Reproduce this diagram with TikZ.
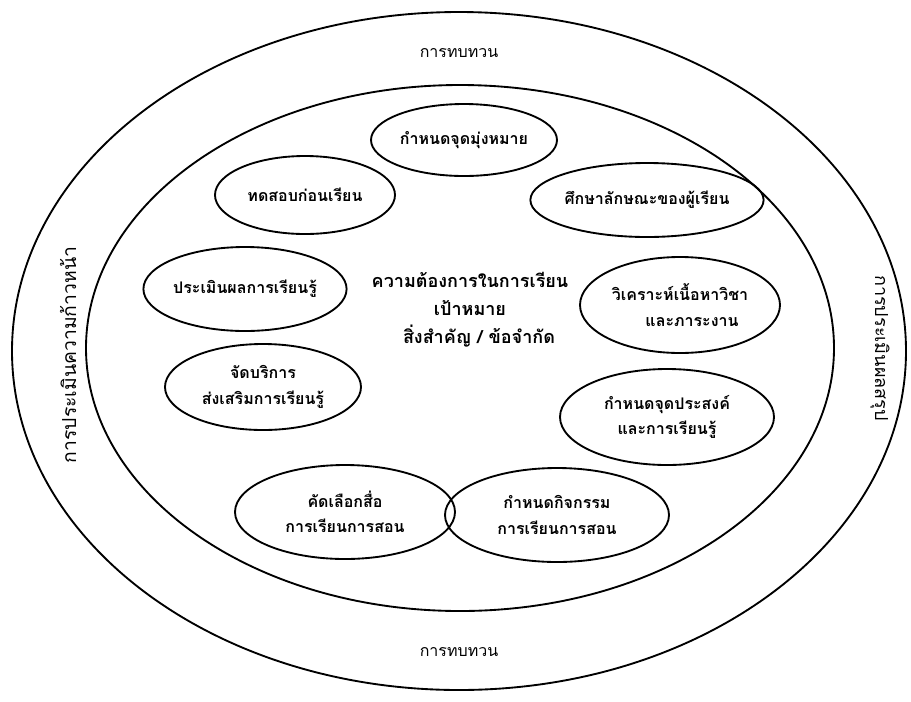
\documentclass[tikz,border=0pt]{standalone}
\usepackage{fontspec}
\newfontfamily\thaifont[Script=Thai]{Loma}
\usetikzlibrary{shapes.geometric}
\tikzset{
	ring/.style={line width=1.4pt},
	bubble/.style={draw, ellipse, line width=1.4pt, inner sep=0pt, align=center,
		font=\thaifont\bfseries\fontsize{12}{19}\selectfont},
	ringlabel/.style={font=\thaifont\fontsize{12}{14}\selectfont}
}
\newcommand{\drawBubble}[5]{
	\node[bubble, minimum width={#3*0.75pt}, minimum height={#4*0.75pt}] (#1) at (#2) {#5};
}

\begin{document}
\begin{tikzpicture}[x=0.75pt, y=-0.75pt]
		\useasboundingbox (0,0) rectangle (911,701);
		\coordinate (C_out) at (459,351);
		\coordinate (C_in) at (460,348);

		\draw[ring] (C_out) ellipse [x radius=447, y radius=339];
		\draw[ring] (C_in) ellipse [x radius=374, y radius=263];

		\node[ringlabel] (L_top) at (459,53) {การทบทวน};
		\node[ringlabel] (L_bot) at (459,652) {การทบทวน};
		\node[ringlabel, rotate=90, font=\thaifont\fontsize{14.5}{16}\selectfont] (L_left) at (68,355) {การประเมินความก้าวหน้า};
		\node[ringlabel, rotate=-90, font=\thaifont\fontsize{13.5}{15}\selectfont] (L_right) at (880,348) {การประเมินผลสรุป};

		\drawBubble{B_aim}{464,140}{186}{72}{กำหนดจุดมุ่งหมาย}
		\drawBubble{B_pre}{305,195}{180}{78}{ทดสอบก่อนเรียน}
		\drawBubble{B_learner}{647,200}{224}{74}{ศึกษาลักษณะของผู้เรียน}
		\drawBubble{B_eval}{245,289}{200}{84}{ประเมินผลการเรียนรู้}
		\drawBubble{B_content}{680,305}{200}{96}{วิเคราะห์เนื้อหาวิชา\\\hspace*{1.5em}และภาระงาน}
		\drawBubble{B_service}{263,387}{196}{86}{จัดบริการ\\ส่งเสริมการเรียนรู้}
		\drawBubble{B_object}{667,417}{214}{96}{กำหนดจุดประสงค์\\และการเรียนรู้}
		\drawBubble{B_media}{345,512}{220}{94}{คัดเลือกสื่อ\\การเรียนการสอน}
		\drawBubble{B_activity}{557,515}{224}{94}{กำหนดกิจกรรม\\การเรียนการสอน}

		\node[align=center, font=\thaifont\bfseries\fontsize{13.5}{21}\selectfont] (N_core) at (470,310)
			{ความต้องการในการเรียน\\เป้าหมาย\\\hspace*{1em}สิ่งสำคัญ / ข้อจำกัด};
	\end{tikzpicture}
\end{document}
